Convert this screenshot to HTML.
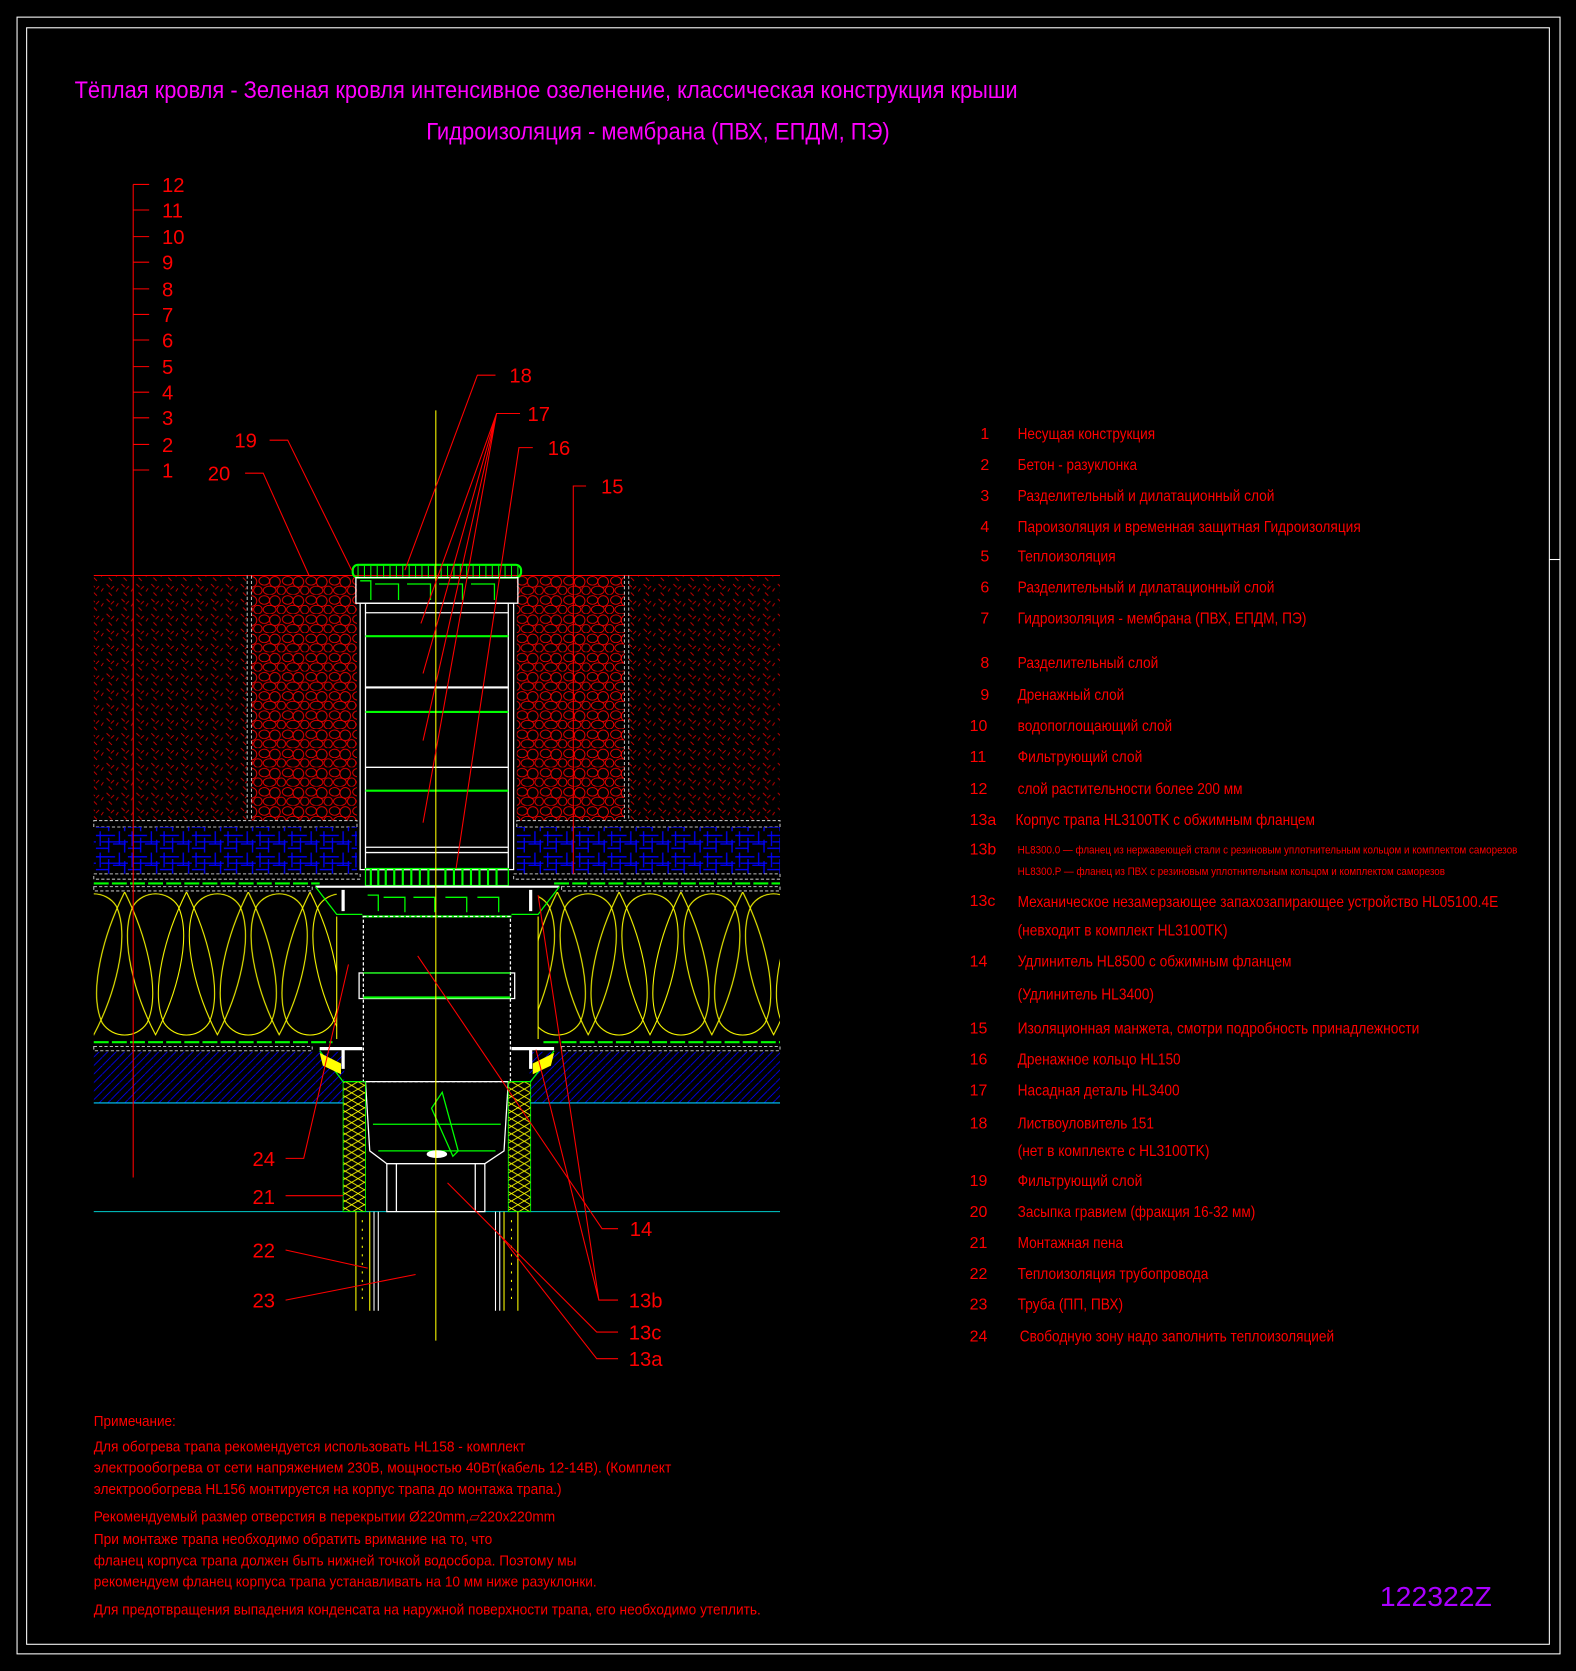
<!DOCTYPE html>
<html><head><meta charset="utf-8"><style>
html,body{margin:0;padding:0;background:#000;}
svg{display:block;}
text{font-family:"Liberation Sans","DejaVu Sans",sans-serif;}
</style></head><body>
<svg width="1576" height="1671" viewBox="0 0 1479 1568" xmlns="http://www.w3.org/2000/svg">
<defs>
<pattern id="dots" width="14" height="14" patternUnits="userSpaceOnUse">
<path d="M2 2 l3 3 M9 4 l-3 3 M4 10 l3 3 M11 9 l2 -3" stroke="#d00" stroke-width="0.8"/>
</pattern>
<pattern id="grav" width="22" height="18" patternUnits="userSpaceOnUse">
<ellipse cx="6" cy="5" rx="5" ry="4" fill="none" stroke="#f00" stroke-width="0.8"/>
<ellipse cx="16" cy="6" rx="5" ry="5" fill="none" stroke="#f00" stroke-width="0.8"/>
<ellipse cx="11" cy="14" rx="6" ry="4" fill="none" stroke="#f00" stroke-width="0.8"/>
<ellipse cx="0" cy="14" rx="4" ry="4" fill="none" stroke="#f00" stroke-width="0.8"/>
<ellipse cx="22" cy="14" rx="4" ry="4" fill="none" stroke="#f00" stroke-width="0.8"/>
</pattern>
<pattern id="blue" width="30" height="20" patternUnits="userSpaceOnUse">
<path d="M0 4 H18 M5 10 H30 M0 16 H12 M4 0 V14 M12 6 V20 M22 0 V12 M27 8 V20 M16 12 H28" stroke="#00f" stroke-width="1.2" fill="none"/>
</pattern>
<pattern id="diag" width="8" height="8" patternUnits="userSpaceOnUse">
<path d="M0 8 L8 0" stroke="#00f" stroke-width="0.8"/>
</pattern>
<pattern id="loops" width="58" height="140" patternUnits="userSpaceOnUse" x="88" y="835">
<path d="M29 2 C 10 40, -6 95, 8 125 C 18 140, 40 140, 50 125 C 64 95, 48 40, 29 2 Z" fill="none" stroke="#ff0" stroke-width="1"/>
<path d="M0 136 C 19 100, 35 45, 21 15 C 11 0, -11 0, -21 15 C -35 45, -19 100, 0 136 Z" fill="none" stroke="#ff0" stroke-width="1"/>
<path d="M58 136 C 77 100, 93 45, 79 15 C 69 0, 47 0, 37 15 C 23 45, 39 100, 58 136 Z" fill="none" stroke="#ff0" stroke-width="1"/>
</pattern>
<pattern id="pins" width="12" height="14" patternUnits="userSpaceOnUse">
<path d="M0 0 L12 7 L0 14 M12 0 L0 7 L12 14" stroke="#ff0" stroke-width="0.8" fill="none"/>
</pattern>
</defs>

<rect x="16" y="16" width="1448" height="1536" fill="none" stroke="#fff" stroke-width="1"/>
<rect x="25" y="26" width="1429" height="1517" fill="none" stroke="#fff" stroke-width="1"/>
<line x1="1454" y1="525" x2="1464" y2="525" stroke="#fff"/>

<text x="70" y="92" fill="#f0f" font-size="23" textLength="885" lengthAdjust="spacingAndGlyphs">Тёплая кровля - Зеленая кровля интенсивное озеленение, классическая конструкция крыши</text>
<text x="400" y="131" fill="#f0f" font-size="23" textLength="435" lengthAdjust="spacingAndGlyphs">Гидроизоляция - мембрана (ПВХ, ЕПДМ, ПЭ)</text>

<rect x="88" y="540" width="144" height="230" fill="url(#dots)"/>
<rect x="590" y="540" width="142" height="230" fill="url(#dots)"/>
<rect x="236" y="540" width="99" height="230" fill="url(#grav)"/>
<rect x="485" y="540" width="101" height="230" fill="url(#grav)"/>
<line x1="88" y1="540" x2="732" y2="540" stroke="#f00"/>
<path d="M232 540 V770 M236 540 V770 M586 540 V770 M590 540 V770" stroke="#bbb" stroke-width="1" stroke-dasharray="3 2"/>
<rect x="88" y="770" width="247" height="6" fill="none" stroke="#bbb" stroke-dasharray="3 2"/>
<rect x="485" y="770" width="247" height="6" fill="none" stroke="#bbb" stroke-dasharray="3 2"/>
<rect x="88" y="776" width="247" height="44" fill="url(#blue)"/>
<rect x="485" y="776" width="247" height="44" fill="url(#blue)"/>
<rect x="88" y="820" width="250" height="5" fill="none" stroke="#bbb" stroke-dasharray="3 2"/>
<rect x="482" y="820" width="250" height="5" fill="none" stroke="#bbb" stroke-dasharray="3 2"/>
<line x1="88" y1="829" x2="300" y2="829" stroke="#0f0" stroke-width="2" stroke-dasharray="14 3"/>
<line x1="520" y1="829" x2="732" y2="829" stroke="#0f0" stroke-width="2" stroke-dasharray="14 3"/>
<rect x="88" y="832" width="205" height="4" fill="none" stroke="#bbb" stroke-dasharray="3 2"/>
<rect x="527" y="832" width="205" height="4" fill="none" stroke="#bbb" stroke-dasharray="3 2"/>
<rect x="88" y="837" width="228" height="138" fill="url(#loops)"/>
<rect x="505" y="837" width="227" height="138" fill="url(#loops)"/>
<line x1="316" y1="860" x2="316" y2="975" stroke="#ff0"/>
<line x1="505" y1="860" x2="505" y2="975" stroke="#ff0"/>
<line x1="88" y1="978" x2="312" y2="978" stroke="#0f0" stroke-width="2" stroke-dasharray="14 3"/>
<line x1="510" y1="978" x2="732" y2="978" stroke="#0f0" stroke-width="2" stroke-dasharray="14 3"/>
<rect x="88" y="982" width="205" height="4" fill="none" stroke="#bbb" stroke-dasharray="3 2"/>
<rect x="527" y="982" width="205" height="4" fill="none" stroke="#bbb" stroke-dasharray="3 2"/>
<rect x="88" y="987" width="235" height="48" fill="url(#diag)"/>
<rect x="497" y="987" width="235" height="48" fill="url(#diag)"/>
<line x1="88" y1="1035" x2="323" y2="1035" stroke="#0cf"/>
<line x1="497" y1="1035" x2="732" y2="1035" stroke="#0cf"/>
<line x1="88" y1="1137" x2="732" y2="1137" stroke="#0cc"/>

<g fill="none" stroke="#fff" stroke-width="1.2">
<rect x="331" y="530" width="158" height="12" rx="5" stroke="#0f0" stroke-width="2"/>
<path d="M336 531 v10 M342 531 v10 M348 531 v10 M354 531 v10 M360 531 v10 M366 531 v10 M372 531 v10 M378 531 v10 M384 531 v10 M390 531 v10 M396 531 v10 M402 531 v10 M408 531 v10 M414 531 v10 M420 531 v10 M426 531 v10 M432 531 v10 M438 531 v10 M444 531 v10 M450 531 v10 M456 531 v10 M462 531 v10 M468 531 v10 M474 531 v10 M480 531 v10 M486 531 v10" stroke="#0f0" stroke-width="1"/>
<rect x="334" y="542" width="152" height="24" stroke="#fff"/>
<path d="M338 545 h10 v18 M352 548 h22 v15 M382 548 h22 v15 M412 548 h22 v15 M442 548 h22 v15" stroke="#0f0"/>
<rect x="338" y="566" width="144" height="250"/>
<rect x="343" y="566" width="134" height="250"/>
<line x1="343" y1="575" x2="477" y2="575" stroke="#fff"/>
<line x1="343" y1="597" x2="477" y2="597" stroke="#0f0" stroke-width="2"/>
<line x1="343" y1="645" x2="477" y2="645" stroke="#fff" stroke-width="2"/>
<line x1="343" y1="668" x2="477" y2="668" stroke="#0f0" stroke-width="2"/>
<line x1="343" y1="720" x2="477" y2="720" stroke="#fff"/>
<line x1="343" y1="742" x2="477" y2="742" stroke="#0f0" stroke-width="2"/>
<line x1="343" y1="795" x2="477" y2="795" stroke="#fff"/>
<line x1="343" y1="800" x2="477" y2="800" stroke="#fff"/>
<rect x="343" y="815" width="134" height="16" stroke="#0f0"/>
<path d="M348 815 v16 M355 815 v16 M362 815 v16 M370 815 v16 M378 815 v16 M386 815 v16 M394 815 v16 M402 815 v16 M418 815 v16 M426 815 v16 M434 815 v16 M442 815 v16 M450 815 v16 M458 815 v16 M466 815 v16" stroke="#0f0" stroke-width="2"/>
<line x1="296" y1="832" x2="525" y2="832" stroke="#fff" stroke-width="2"/>
<path d="M345 840 h10 v15 M360 842 h20 v14 M388 842 h20 v14 M418 842 h20 v14 M448 842 h20 v14" stroke="#0f0"/>
<line x1="340" y1="860" x2="480" y2="860" stroke="#0f0" stroke-width="2"/>
<path d="M296 832 L316 858 H340 M525 832 L505 858 H480" stroke="#0f0"/>
<rect x="341" y="860" width="138" height="155" stroke-dasharray="3 2"/>
<rect x="337" y="913" width="146" height="24"/>
<line x1="341" y1="936" x2="479" y2="936" stroke="#0f0" stroke-width="2"/>
<line x1="341" y1="913" x2="479" y2="913" stroke="#0f0"/>
<path d="M300 984 h40 M480 984 h40" stroke="#fff" stroke-width="3"/>
<path d="M322 835 v20 M498 835 v20 M322 983 v20 M498 983 v20" stroke="#fff" stroke-width="3"/>
<path d="M300 986 L322 1015 H340 M520 986 L498 1015 H480" stroke="#0f0"/>
<path d="M343 1015 H477 L473 1080 L455 1092 H363 L347 1080 Z"/>
<path d="M363 1092 V1137 H455 V1092"/>
<path d="M372 1092 V1137 M446 1092 V1137"/>
<path d="M350 1055 H470 M355 1080 H465" stroke="#0f0"/>
<path d="M405 1040 L415 1025 L430 1080 L425 1085 Z" stroke="#0f0"/>
<ellipse cx="410" cy="1083" rx="9" ry="3" fill="#fff"/>
</g>
<rect x="322" y="1015" width="21" height="122" fill="url(#pins)" stroke="#0f0" stroke-width="0.8"/>
<rect x="477" y="1015" width="21" height="122" fill="url(#pins)" stroke="#0f0" stroke-width="0.8"/>
<path d="M300 988 L320 998 V1008 L303 1000 Z M520 988 L500 998 V1008 L517 1000 Z" fill="#ff0"/>
<g fill="none" stroke-width="1">
<path d="M334 1137 V1230 M347 1137 V1230 M473 1137 V1230 M486 1137 V1230" stroke="#ff0"/>
<path d="M351 1137 V1230 M355 1137 V1230 M465 1137 V1230 M469 1137 V1230" stroke="#fff"/>
<path d="M340 1145 V1225 M480 1145 V1225" stroke="#ff0" stroke-dasharray="2 6"/>
</g>
<line x1="409" y1="385" x2="409" y2="1258" stroke="#ff0" stroke-width="1"/>

<g stroke="#f00" stroke-width="1" fill="none">
<line x1="125" y1="173" x2="125" y2="1105"/>
<path d="M125 173h15M125 197h15M125 222h15M125 246h15M125 271h15M125 295h15M125 319h15M125 344h15M125 368h15M125 392h15M125 417h15M125 441h15"/>
</g>
<g fill="#f00" font-size="19">
<text x="152" y="180">12</text><text x="152" y="204">11</text><text x="152" y="229">10</text>
<text x="152" y="253">9</text><text x="152" y="278">8</text><text x="152" y="302">7</text>
<text x="152" y="326">6</text><text x="152" y="351">5</text><text x="152" y="375">4</text>
<text x="152" y="399">3</text><text x="152" y="424">2</text><text x="152" y="448">1</text>
</g>

<g stroke="#f00" stroke-width="1" fill="none">
<path d="M465 352 H448 L380 535"/>
<path d="M488 388 H466 L395 585 M466 388 L397 632 M466 388 L397 695 M466 388 L397 772"/>
<path d="M500 420 H487 L428 815"/>
<path d="M550 456 H538 V820"/>
<path d="M253 413 H270 L330 535"/>
<path d="M230 444 H247 L290 540"/>
<path d="M268 1087 H285 L327 905"/>
<path d="M268 1122 H322"/>
<path d="M268 1173 L345 1190"/>
<path d="M268 1220 L390 1196"/>
<path d="M580 1153 H565 L392 897"/>
<path d="M580 1220 H562 L505 840 M562 1220 L503 985"/>
<path d="M580 1250 H560 L420 1110"/>
<path d="M580 1275 H560 L470 1160"/>
</g>
<g fill="#f00" font-size="19">
<text x="478" y="359">18</text><text x="495" y="395">17</text><text x="514" y="427">16</text>
<text x="564" y="463">15</text><text x="220" y="420">19</text><text x="195" y="451">20</text>
<text x="237" y="1094">24</text><text x="237" y="1130">21</text><text x="237" y="1180">22</text>
<text x="237" y="1227">23</text><text x="591" y="1160">14</text><text x="590" y="1227">13b</text>
<text x="590" y="1257">13c</text><text x="590" y="1282">13a</text>
</g>

<g fill="#f00" font-size="15">
<text x="920" y="412">1</text><text x="955" y="412" textLength="129" lengthAdjust="spacingAndGlyphs">Несущая конструкция</text>
<text x="920" y="441">2</text><text x="955" y="441" textLength="112" lengthAdjust="spacingAndGlyphs">Бетон - разуклонка</text>
<text x="920" y="470">3</text><text x="955" y="470" textLength="241" lengthAdjust="spacingAndGlyphs">Разделительный и дилатационный слой</text>
<text x="920" y="499">4</text><text x="955" y="499" textLength="322" lengthAdjust="spacingAndGlyphs">Пароизоляция и временная защитная Гидроизоляция</text>
<text x="920" y="527">5</text><text x="955" y="527" textLength="92" lengthAdjust="spacingAndGlyphs">Теплоизоляция</text>
<text x="920" y="556">6</text><text x="955" y="556" textLength="241" lengthAdjust="spacingAndGlyphs">Разделительный и дилатационный слой</text>
<text x="920" y="585">7</text><text x="955" y="585" textLength="271" lengthAdjust="spacingAndGlyphs">Гидроизоляция - мембрана (ПВХ, ЕПДМ, ПЭ)</text>
<text x="920" y="627">8</text><text x="955" y="627" textLength="132" lengthAdjust="spacingAndGlyphs">Разделительный слой</text>
<text x="920" y="657">9</text><text x="955" y="657" textLength="100" lengthAdjust="spacingAndGlyphs">Дренажный слой</text>
<text x="910" y="686">10</text><text x="955" y="686" textLength="145" lengthAdjust="spacingAndGlyphs">водопоглощающий слой</text>
<text x="910" y="715">11</text><text x="955" y="715" textLength="117" lengthAdjust="spacingAndGlyphs">Фильтрующий слой</text>
<text x="910" y="745">12</text><text x="955" y="745" textLength="211" lengthAdjust="spacingAndGlyphs">слой растительности более 200 мм</text>
<text x="910" y="774">13a</text><text x="953" y="774" textLength="281" lengthAdjust="spacingAndGlyphs">Корпус трапа HL3100TK с обжимным фланцем</text>
<text x="910" y="802">13b</text>
<text x="955" y="801" font-size="10" textLength="469" lengthAdjust="spacingAndGlyphs">HL8300.0 — фланец из нержавеющей стали с резиновым уплотнительным кольцом и комплектом саморезов</text>
<text x="955" y="821" font-size="10" textLength="401" lengthAdjust="spacingAndGlyphs">HL8300.P — фланец из ПВХ с резиновым уплотнительным кольцом и комплектом саморезов</text>
<text x="910" y="850">13c</text><text x="955" y="851" textLength="451" lengthAdjust="spacingAndGlyphs">Механическое незамерзающее запахозапирающее устройство HL05100.4E</text>
<text x="955" y="878" textLength="197" lengthAdjust="spacingAndGlyphs">(невходит в комплект HL3100TK)</text>
<text x="910" y="907">14</text><text x="955" y="907" textLength="257" lengthAdjust="spacingAndGlyphs">Удлинитель HL8500 с обжимным фланцем</text>
<text x="955" y="938" textLength="128" lengthAdjust="spacingAndGlyphs">(Удлинитель HL3400)</text>
<text x="910" y="970">15</text><text x="955" y="970" textLength="377" lengthAdjust="spacingAndGlyphs">Изоляционная  манжета, смотри подробность принадлежности</text>
<text x="910" y="999">16</text><text x="955" y="999" textLength="153" lengthAdjust="spacingAndGlyphs">Дренажное кольцо HL150</text>
<text x="910" y="1028">17</text><text x="955" y="1028" textLength="152" lengthAdjust="spacingAndGlyphs">Насадная деталь HL3400</text>
<text x="910" y="1059">18</text><text x="955" y="1059" textLength="128" lengthAdjust="spacingAndGlyphs">Листвоуловитель 151</text>
<text x="955" y="1085" textLength="180" lengthAdjust="spacingAndGlyphs">(нет в комплекте с HL3100TK)</text>
<text x="910" y="1113">19</text><text x="955" y="1113" textLength="117" lengthAdjust="spacingAndGlyphs">Фильтрующий слой</text>
<text x="910" y="1142">20</text><text x="955" y="1142" textLength="223" lengthAdjust="spacingAndGlyphs">Засыпка гравием (фракция 16-32 мм)</text>
<text x="910" y="1171">21</text><text x="955" y="1171" textLength="99" lengthAdjust="spacingAndGlyphs">Монтажная пена</text>
<text x="910" y="1200">22</text><text x="955" y="1200" textLength="179" lengthAdjust="spacingAndGlyphs">Теплоизоляция трубопровода</text>
<text x="910" y="1229">23</text><text x="955" y="1229" textLength="99" lengthAdjust="spacingAndGlyphs">Труба (ПП, ПВХ)</text>
<text x="910" y="1259">24</text><text x="957" y="1259" textLength="295" lengthAdjust="spacingAndGlyphs">Свободную зону надо заполнить теплоизоляцией</text>
</g>

<g fill="#f00" font-size="14">
<text x="88" y="1338" textLength="77" lengthAdjust="spacingAndGlyphs">Примечание:</text>
<text x="88" y="1362" textLength="405" lengthAdjust="spacingAndGlyphs">Для обогрева трапа рекомендуется использовать HL158 - комплект</text>
<text x="88" y="1382" textLength="542" lengthAdjust="spacingAndGlyphs">электрообогрева от сети напряжением 230В, мощностью 40Вт(кабель 12-14В). (Комплект</text>
<text x="88" y="1402" textLength="439" lengthAdjust="spacingAndGlyphs">электрообогрева HL156 монтируется на корпус трапа до монтажа трапа.)</text>
<text x="88" y="1428" textLength="433" lengthAdjust="spacingAndGlyphs">Рекомендуемый размер отверстия в перекрытии Ø220mm,▱220x220mm</text>
<text x="88" y="1449" textLength="374" lengthAdjust="spacingAndGlyphs">При монтаже трапа необходимо обратить вримание на то, что</text>
<text x="88" y="1469" textLength="453" lengthAdjust="spacingAndGlyphs">фланец корпуса трапа должен быть нижней точкой водосбора. Поэтому мы</text>
<text x="88" y="1489" textLength="472" lengthAdjust="spacingAndGlyphs">рекомендуем фланец корпуса трапа устанавливать на 10 мм ниже разуклонки.</text>
<text x="88" y="1515" textLength="626" lengthAdjust="spacingAndGlyphs">Для предотвращения выпадения конденсата на наружной поверхности трапа, его необходимо утеплить.</text>
</g>
<text x="1295" y="1507" fill="#a0f" font-size="26" textLength="105" lengthAdjust="spacingAndGlyphs">122322Z</text>
</svg>
</body></html>
